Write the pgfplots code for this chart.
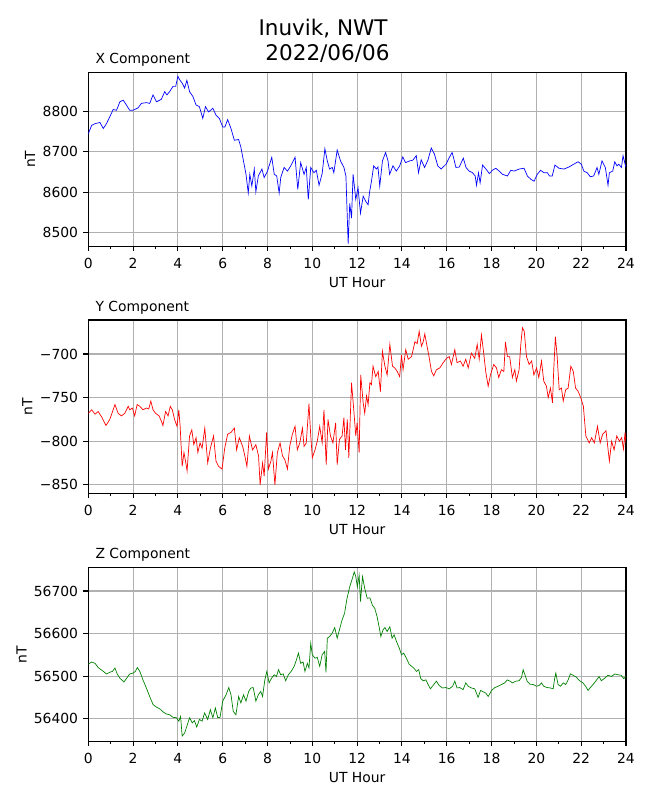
\documentclass[border=0pt]{standalone}
\usepackage{fontspec}
\setmainfont{DejaVu Sans}
\usepackage{pgfplots}
\pgfplotsset{compat=1.18}
\definecolor{gridgray}{HTML}{B0B0B0}
\definecolor{mplgreen}{HTML}{008000}
\pgfplotsset{
  magstyle/.style={
    scale only axis, width=387.1pt, height=124.9pt,
    xmin=0, xmax=24, xtick={0,2,...,24}, minor xtick={1,3,...,23},
    tick align=outside, tick pos=left,
    major tick length=3.5pt, minor tick length=2pt,
    tick style={black, line width=0.8pt},
    minor tick style={black, line width=0.6pt},
    grid=major, major grid style={color=gridgray, line width=0.8pt},
    axis line style={line width=0.8pt},
    scaled ticks=false,
    /pgf/number format/assume math mode=true,
    /pgf/number format/1000 sep={},
    ticklabel style={font=\fontsize{10}{12}\selectfont},
    xticklabel style={inner sep=0pt, anchor=north, yshift=-4.85pt},
    yticklabel style={inner sep=0pt, anchor=east, xshift=-3.7pt},
    xlabel={UT Hour}, ylabel={nT},
    label style={font=\fontsize{10}{12}\selectfont},
    xlabel style={at={(axis description cs:0.5,-0.2363)}, anchor=base, inner sep=0pt},
    every axis title shift=0pt,
    title style={at={(axis description cs:0.0130,1.0501)}, anchor=base west, inner sep=0pt, font=\fontsize{10}{12}\selectfont},
  }
}
\begin{document}
\begin{tikzpicture}
\useasboundingbox (0,0) rectangle (468pt,-576pt);
\begin{axis}[magstyle, at={(63.58pt,-52.27pt)}, anchor=north west,
  ymin=8467, ymax=8895, ytick={8500,8600,8700,8800},
  ylabel style={at={(axis description cs:-0.0991,0.5)}, anchor=base, inner sep=0pt},
  title={X Component}]
\addplot[blue, line width=0.5pt] coordinates {
(0,8744) (0.15,8765) (0.3,8769) (0.52,8772) (0.67,8757) (0.81,8769) (0.96,8786) (1.11,8804) (1.26,8802) (1.41,8823) (1.56,8827) (1.70,8815) (1.85,8802) (2.0,8802) (2.22,8808) (2.37,8819) (2.59,8821) (2.74,8819) (2.89,8840) (3.04,8823) (3.26,8829) (3.41,8848) (3.51,8840) (3.63,8848) (3.78,8861) (3.9,8861) (4.0,8886) (4.07,8878) (4.19,8869) (4.3,8857) (4.4,8876) (4.52,8848) (4.67,8836) (4.81,8815) (4.96,8811) (5.11,8782) (5.23,8811) (5.37,8798) (5.56,8807) (5.7,8790) (5.85,8782) (6.0,8761) (6.1,8761) (6.22,8779) (6.37,8757) (6.52,8728) (6.71,8730) (6.81,8711) (6.92,8679) (7.04,8644) (7.14,8598) (7.21,8644) (7.3,8615) (7.41,8657) (7.48,8601) (7.59,8640) (7.75,8657) (7.85,8636) (8.0,8652) (8.19,8686) (8.3,8644) (8.41,8640) (8.52,8598) (8.59,8636) (8.74,8661) (8.89,8652) (9.04,8665) (9.23,8686) (9.35,8607) (9.48,8673) (9.63,8644) (9.73,8661) (9.82,8582) (9.93,8661) (10.07,8648) (10.18,8654) (10.3,8617) (10.44,8646) (10.56,8707) (10.67,8677) (10.77,8657) (10.89,8661) (10.96,8648) (11.11,8704) (11.26,8677) (11.41,8661) (11.5,8640) (11.6,8473) (11.67,8572) (11.75,8536) (11.82,8644) (11.94,8582) (12.04,8611) (12.15,8548) (12.27,8590) (12.39,8577) (12.49,8569) (12.56,8602) (12.64,8627) (12.74,8665) (12.86,8657) (12.93,8662) (13.01,8615) (13.13,8677) (13.27,8698) (13.38,8677) (13.45,8644) (13.6,8665) (13.75,8652) (13.9,8665) (14.04,8687) (14.16,8673) (14.34,8677) (14.49,8679) (14.64,8690) (14.74,8648) (14.86,8680) (15.01,8661) (15.16,8679) (15.31,8709) (15.45,8694) (15.6,8665) (15.75,8657) (15.97,8669) (16.12,8686) (16.24,8698) (16.3,8686) (16.41,8661) (16.56,8662) (16.74,8684) (16.86,8661) (17.0,8652) (17.15,8648) (17.27,8640) (17.33,8617) (17.42,8648) (17.49,8623) (17.6,8667) (17.75,8657) (17.9,8646) (18.04,8654) (18.19,8659) (18.34,8652) (18.49,8644) (18.71,8640) (18.86,8654) (19.01,8652) (19.23,8657) (19.45,8659) (19.6,8640) (19.75,8632) (19.9,8627) (20.04,8644) (20.19,8654) (20.34,8648) (20.49,8648) (20.59,8640) (20.71,8640) (20.83,8667) (21.01,8659) (21.23,8657) (21.45,8662) (21.67,8669) (21.86,8675) (22.01,8669) (22.12,8652) (22.27,8648) (22.41,8638) (22.56,8640) (22.71,8661) (22.79,8644) (22.93,8677) (23.08,8661) (23.2,8617) (23.26,8648) (23.41,8652) (23.5,8675) (23.6,8665) (23.68,8669) (23.8,8661) (23.87,8690) (24,8661)
};
\end{axis}
\begin{axis}[magstyle, at={(63.58pt,-230.4pt)}, anchor=north west,
  ymin=-860, ymax=-661, ytick={-850,-800,-750,-700}, yticklabels={−850,−800,−750,−700},
  ylabel style={at={(axis description cs:-0.1038,0.5)}, anchor=base, inner sep=0pt},
  title={Y Component}]
\addplot[red, line width=0.5pt] coordinates {
(0,-768) (0.15,-764) (0.3,-769) (0.44,-766) (0.59,-772) (0.79,-782) (0.96,-775) (1.11,-764) (1.19,-758) (1.33,-768) (1.48,-771) (1.63,-768) (1.78,-760) (1.85,-764) (1.97,-762) (2.07,-771) (2.18,-758) (2.3,-760) (2.44,-764) (2.59,-762) (2.7,-763) (2.79,-754) (2.89,-764) (3.0,-768) (3.16,-771) (3.26,-777) (3.33,-782) (3.45,-766) (3.56,-771) (3.66,-760) (3.75,-764) (3.85,-775) (3.96,-783) (4.04,-764) (4.1,-783) (4.19,-829) (4.27,-813) (4.34,-823) (4.41,-834) (4.52,-794) (4.62,-787) (4.71,-804) (4.81,-796) (4.89,-813) (4.99,-802) (5.08,-808) (5.2,-785) (5.33,-825) (5.45,-808) (5.59,-794) (5.7,-823) (5.82,-829) (5.97,-832) (6.09,-808) (6.22,-792) (6.37,-790) (6.52,-785) (6.62,-810) (6.74,-796) (6.89,-806) (6.99,-817) (7.08,-829) (7.19,-794) (7.33,-810) (7.48,-804) (7.6,-817) (7.67,-850) (7.78,-825) (7.85,-840) (7.96,-790) (8.04,-832) (8.15,-823) (8.22,-813) (8.33,-850) (8.44,-813) (8.56,-802) (8.67,-817) (8.77,-821) (8.89,-832) (8.99,-806) (9.11,-792) (9.23,-783) (9.33,-810) (9.44,-802) (9.56,-785) (9.63,-806) (9.73,-802) (9.85,-757) (9.93,-794) (10.0,-819) (10.12,-810) (10.22,-800) (10.33,-783) (10.44,-802) (10.52,-764) (10.62,-827) (10.7,-775) (10.81,-794) (10.92,-802) (11.04,-779) (11.11,-827) (11.21,-798) (11.33,-794) (11.41,-773) (11.48,-810) (11.56,-775) (11.63,-819) (11.75,-733) (11.85,-764) (11.94,-794) (12.0,-779) (12.09,-813) (12.16,-724) (12.27,-756) (12.34,-768) (12.42,-748) (12.49,-758) (12.57,-733) (12.64,-735) (12.71,-714) (12.83,-726) (12.94,-720) (13.04,-743) (13.13,-697) (13.24,-714) (13.34,-724) (13.46,-689) (13.58,-714) (13.68,-716) (13.79,-720) (13.9,-726) (13.98,-701) (14.05,-718) (14.17,-695) (14.28,-706) (14.43,-703) (14.58,-686) (14.68,-688) (14.77,-674) (14.87,-691) (14.95,-686) (15.02,-677) (15.12,-691) (15.21,-703) (15.32,-720) (15.42,-725) (15.54,-718) (15.69,-716) (15.84,-710) (15.99,-705) (16.11,-703) (16.21,-712) (16.36,-695) (16.46,-710) (16.61,-708) (16.73,-714) (16.85,-706) (16.96,-716) (17.1,-699) (17.25,-705) (17.36,-689) (17.45,-706) (17.55,-678) (17.65,-699) (17.74,-720) (17.85,-737) (17.95,-724) (18.1,-712) (18.22,-716) (18.32,-727) (18.44,-718) (18.55,-720) (18.62,-686) (18.71,-703) (18.81,-703) (18.93,-727) (19.04,-718) (19.11,-731) (19.23,-718) (19.31,-688) (19.38,-670) (19.46,-674) (19.56,-703) (19.68,-712) (19.79,-708) (19.89,-724) (20.01,-716) (20.11,-727) (20.23,-708) (20.33,-731) (20.45,-737) (20.53,-750) (20.63,-739) (20.72,-756) (20.78,-716) (20.85,-680) (20.93,-703) (21.02,-741) (21.12,-739) (21.2,-754) (21.31,-741) (21.42,-739) (21.54,-714) (21.65,-720) (21.75,-739) (21.87,-743) (21.98,-750) (22.1,-760) (22.21,-794) (22.36,-802) (22.47,-796) (22.59,-802) (22.73,-783) (22.85,-802) (22.96,-792) (23.11,-788) (23.26,-823) (23.36,-800) (23.47,-810) (23.59,-794) (23.71,-800) (23.81,-796) (23.89,-809) (23.96,-790) (24,-802)
};
\end{axis}
\begin{axis}[magstyle, at={(63.58pt,-408.7pt)}, anchor=north west,
  ymin=56347, ymax=56755, ytick={56400,56500,56600,56700},
  ylabel style={at={(axis description cs:-0.1146,0.5)}, anchor=base, inner sep=0pt},
  title={Z Component}]
\addplot[mplgreen, line width=0.5pt] coordinates {
(0,56528) (0.15,56533) (0.3,56530) (0.44,56520) (0.67,56511) (0.81,56505) (0.96,56509) (1.08,56511) (1.19,56519) (1.29,56505) (1.41,56495) (1.59,56486) (1.7,56494) (1.85,56505) (2.0,56507) (2.1,56511) (2.19,56520) (2.3,56511) (2.44,56491) (2.59,56472) (2.74,56452) (2.89,56433) (3.04,56427) (3.19,56423) (3.33,56416) (3.48,56411) (3.63,56409) (3.78,56403) (3.93,56402) (4.04,56394) (4.12,56405) (4.19,56359) (4.3,56366) (4.4,56382) (4.52,56402) (4.64,56390) (4.74,56395) (4.84,56380) (4.96,56398) (5.08,56394) (5.19,56413) (5.33,56398) (5.45,56421) (5.56,56402) (5.67,56425) (5.78,56402) (5.88,56403) (6.0,56441) (6.15,56456) (6.27,56473) (6.37,56456) (6.47,56417) (6.59,56409) (6.71,56452) (6.81,56437) (6.93,56456) (7.04,56441) (7.16,56464) (7.26,56472) (7.36,56473) (7.48,56441) (7.59,56456) (7.7,56464) (7.78,56452) (7.88,56491) (7.97,56511) (8.07,56484) (8.18,56495) (8.3,56503) (8.4,56499) (8.49,56515) (8.59,56503) (8.7,56505) (8.81,56489) (8.93,56503) (9.07,56512) (9.19,56523) (9.29,56538) (9.38,56554) (9.48,56530) (9.59,56533) (9.67,56511) (9.78,56530) (9.85,56519) (9.93,56577) (10.0,56550) (10.12,56542) (10.22,56544) (10.33,56523) (10.44,56550) (10.55,56558) (10.61,56509) (10.67,56589) (10.77,56593) (10.89,56601) (11.0,56614) (11.11,56589) (11.21,56609) (11.33,56632) (11.44,56648) (11.55,56683) (11.67,56710) (11.79,56730) (11.87,56745) (11.94,56734) (12.01,56710) (12.09,56737) (12.15,56675) (12.24,56734) (12.34,56706) (12.45,56683) (12.57,56684) (12.68,56667) (12.79,56659) (12.89,56640) (12.98,56616) (13.06,56593) (13.16,56609) (13.24,56614) (13.34,56605) (13.46,56616) (13.56,56589) (13.65,56597) (13.76,56581) (13.88,56566) (13.98,56550) (14.08,56554) (14.2,56542) (14.32,56528) (14.43,56523) (14.53,56519) (14.65,56511) (14.75,56515) (14.84,56494) (14.95,56489) (15.07,56491) (15.17,56480) (15.27,56470) (15.39,56478) (15.54,56488) (15.66,56478) (15.81,56472) (15.96,56473) (16.11,56470) (16.26,56476) (16.36,56488) (16.46,56472) (16.58,56473) (16.73,56468) (16.85,56484) (16.96,56476) (17.1,56472) (17.25,56470) (17.4,56450) (17.51,56466) (17.63,56463) (17.74,56460) (17.85,56452) (18.0,56466) (18.15,56473) (18.29,56476) (18.44,56480) (18.59,56484) (18.7,56491) (18.82,56488) (18.93,56484) (19.08,56488) (19.23,56489) (19.34,56497) (19.41,56515) (19.49,56503) (19.59,56488) (19.71,56481) (19.86,56480) (20.01,56476) (20.13,56478) (20.23,56484) (20.33,56476) (20.48,56473) (20.63,56472) (20.75,56470) (20.82,56495) (20.87,56507) (20.97,56480) (21.08,56476) (21.2,56484) (21.31,56480) (21.42,56491) (21.52,56505) (21.64,56502) (21.79,56497) (21.93,56489) (22.08,56484) (22.2,56476) (22.31,56466) (22.41,56473) (22.53,56480) (22.65,56488) (22.8,56499) (22.9,56489) (23.05,56495) (23.2,56502) (23.35,56499) (23.5,56505) (23.65,56503) (23.79,56502) (23.9,56494) (24,56499)
};
\end{axis}
\node[anchor=base, inner sep=0pt, font=\fontsize{15.5}{18}\selectfont] at (232.6pt,-25.2pt) {Inuvik, NWT};
\node[anchor=base, inner sep=0pt, font=\fontsize{15.5}{18}\selectfont] at (235.8pt,-43.2pt) {2022/06/06};
\end{tikzpicture}
\end{document}
